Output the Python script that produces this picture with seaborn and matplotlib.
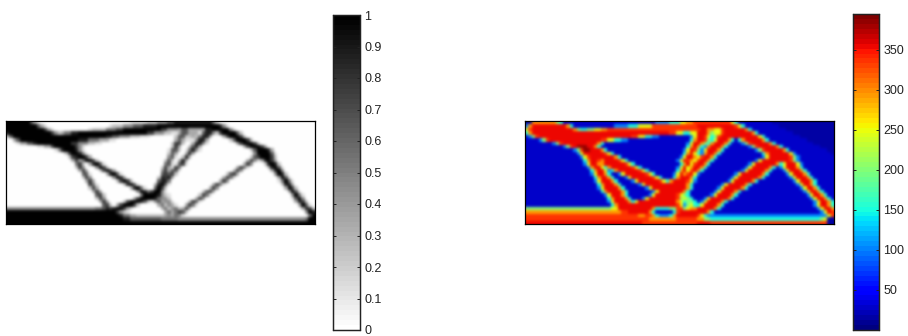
import numpy as np
import matplotlib
matplotlib.use("Agg")
import matplotlib.pyplot as plt
import seaborn as sns

# rows of the two fields: "column:level" means level from that column on
n_cols = 90

density_rows = [
    "0:9 7:6 8:3 9:1 10:0 36:1 41:2 44:4 47:6 49:8 60:5 61:2 62:0",
    "0:9 9:6 10:3 11:1 12:0 30:1 31:2 34:4 37:6 40:8 44:9 62:8 63:4 64:1 65:0",
    "0:9 11:7 12:3 13:1 14:0 24:1 25:2 29:5 32:7 34:9 45:7 47:4 50:3 51:6 53:3 58:8 60:9 65:4 66:1 67:0",
    "0:8 1:9 13:7 14:4 15:2 16:3 17:5 19:8 21:9 41:7 43:4 46:2 48:1 50:3 51:6 53:3 56:1 57:6 58:8 60:4 61:2 62:7 63:9 67:6 68:2 69:0",
    "0:2 1:6 2:9 29:8 31:6 33:4 36:2 39:1 42:0 49:2 50:6 52:2 54:3 55:2 56:5 57:8 59:3 60:0 63:3 64:7 65:9 68:7 69:2 70:0",
    "0:0 2:3 3:6 4:9 21:8 24:5 27:3 30:1 32:0 49:3 50:6 51:3 52:1 55:4 56:8 58:3 59:0 65:2 66:6 67:9 70:7 71:2 72:0",
    "0:0 3:1 4:3 6:6 8:8 9:9 19:7 21:4 24:2 26:1 28:0 48:2 49:7 51:2 52:0 54:3 55:8 57:4 58:1 59:0 67:3 68:7 69:9 72:7 73:2 74:0",
    "0:0 9:1 11:3 13:7 14:9 20:7 21:4 22:1 23:0 48:2 49:7 50:3 51:0 53:2 54:6 55:8 56:3 57:0 69:3 70:7 71:9 74:7 75:3 76:0",
    "0:0 14:1 15:4 16:8 17:9 20:8 21:4 22:1 23:0 47:1 48:6 50:2 51:0 52:1 53:5 54:8 55:4 56:1 57:0 71:2 72:6 73:9 76:8 77:3 78:0",
    "0:0 17:2 18:7 19:9 21:8 22:4 23:1 24:0 47:2 48:6 49:3 50:0 52:3 53:8 54:3 55:0 72:4 73:9 77:6 78:1 79:0",
    "0:0 18:2 19:7 20:8 21:9 23:7 24:3 25:0 47:4 48:6 49:1 50:0 51:2 52:8 53:3 54:0 71:2 72:6 73:7 74:9 77:7 78:2 79:0",
    "0:0 19:3 20:7 21:3 22:5 23:9 25:7 26:2 27:0 46:2 47:6 48:2 49:0 50:3 51:8 52:3 53:0 70:3 71:7 72:4 73:1 74:3 75:8 76:9 77:7 78:3 79:0",
    "0:0 20:5 21:7 22:2 23:0 24:3 25:8 26:9 27:6 28:1 29:0 46:5 47:6 48:1 50:6 51:7 52:1 53:0 69:3 70:7 71:4 72:0 75:2 76:8 77:9 78:8 79:2 80:0",
    "0:0 20:2 21:7 22:4 23:0 26:4 27:9 28:7 29:2 30:0 45:2 46:7 47:3 48:1 49:7 50:5 51:0 67:3 68:7 69:5 70:1 71:0 76:2 77:8 78:9 79:6 80:1 81:0",
    "0:0 21:3 22:7 23:3 24:0 27:2 28:7 29:9 30:7 31:3 32:0 45:4 46:7 47:3 48:6 50:1 51:0 66:3 67:7 68:4 69:0 77:3 78:8 79:9 80:4 81:0",
    "0:0 22:6 24:1 25:0 29:3 30:8 31:9 32:6 33:1 34:0 45:6 46:7 47:6 48:7 49:2 50:0 64:2 65:6 66:7 67:3 68:0 78:4 79:9 80:8 81:2 82:0",
    "0:0 22:2 23:7 24:4 25:0 31:4 32:9 33:8 34:3 35:0 44:2 45:8 46:7 47:8 48:3 49:0 63:3 64:7 65:5 66:1 67:0 79:3 80:9 81:6 82:1 83:0",
    "0:0 23:3 24:7 25:3 26:0 32:2 33:7 34:9 35:7 36:2 37:0 44:6 45:8 47:5 48:0 62:3 63:7 64:4 65:0 79:1 80:5 81:9 82:5 83:1 84:0",
    "0:0 24:7 25:5 26:1 27:0 34:2 35:8 36:9 37:6 38:1 39:0 43:3 44:8 45:9 46:6 47:1 48:0 60:3 61:7 62:5 63:1 64:0 80:2 81:8 83:3 84:0",
    "0:0 24:2 25:7 26:3 27:0 36:3 37:8 38:9 39:5 40:1 41:0 43:6 44:9 45:7 46:2 47:0 59:3 60:7 61:4 62:0 81:3 82:9 83:7 84:2 85:0",
    "0:0 25:3 26:7 27:3 28:0 38:4 39:9 40:8 41:5 42:7 43:9 45:4 46:1 47:0 57:2 58:6 59:7 60:3 61:0 82:3 83:9 84:6 85:1 86:0",
    "0:0 26:6 27:7 28:2 29:0 39:5 40:9 44:8 45:4 46:2 47:1 48:0 56:2 57:7 58:5 59:1 60:0 83:4 84:9 85:5 86:1 87:0",
    "0:0 26:2 27:7 28:4 29:0 37:3 38:7 39:9 43:8 44:5 45:4 47:2 48:0 55:3 56:7 57:4 58:0 83:1 84:6 85:9 86:4 87:0",
    "0:0 27:3 28:7 29:3 30:0 34:2 35:7 36:9 39:8 40:6 41:2 42:1 43:4 44:6 45:3 46:4 48:1 49:0 53:2 54:7 55:6 56:1 57:0 84:3 85:8 86:7 87:2 88:0",
    "0:0 28:6 29:7 30:2 31:0 32:3 33:7 34:9 37:7 38:2 39:0 44:3 45:5 46:2 47:4 48:3 49:1 50:0 52:3 53:7 54:5 55:1 56:0 85:3 86:9 87:6 88:1 89:0",
    "0:4 26:5 28:6 29:8 30:7 31:8 32:9 34:7 35:3 36:1 37:0 45:3 46:5 47:2 48:4 49:5 50:2 51:3 52:7 53:3 54:0 86:3 87:8 88:7 89:2",
    "0:9 32:7 33:4 34:2 35:1 36:0 46:3 47:5 48:3 49:5 50:7 51:6 52:2 53:0 87:4 88:9 89:8",
    "0:9 33:8 34:5 36:3 38:2 46:3 47:4 48:3 49:5 50:4 51:1 52:0 88:5 89:9",
    "0:9 34:8 36:6 45:5 50:4 87:5 88:9",
    "0:9",
]

stress_rows = [
    "0:0 2:6 9:4 10:3 11:1 38:2 42:3 45:5 47:6 49:7 60:5 61:3 62:1 72:0",
    "0:2 1:6 2:8 12:6 13:3 14:1 26:2 30:3 33:5 37:7 50:8 61:7 62:5 63:3 64:1 74:0",
    "0:5 1:7 2:8 14:6 15:4 16:3 18:4 20:5 22:6 24:7 50:7 51:8 53:6 55:5 57:7 58:8 64:6 65:3 66:1 76:0",
    "0:3 1:6 2:8 42:7 44:5 46:3 48:5 50:8 53:6 54:4 55:5 57:7 58:8 66:6 67:3 68:1 78:0",
    "0:1 1:2 2:4 3:7 4:8 31:7 33:5 35:3 37:2 39:1 48:2 49:5 50:8 52:7 53:5 54:3 55:4 56:7 57:8 67:8 68:5 69:3 70:1 80:0",
    "0:1 4:2 5:4 6:7 7:8 22:7 24:5 26:3 28:2 30:1 48:3 49:6 50:8 52:7 53:4 54:3 55:5 56:8 59:6 60:3 61:1 62:3 63:6 64:8 69:6 70:3 71:1 82:0",
    "0:1 8:2 9:4 10:7 11:8 20:8 21:6 22:3 23:1 47:2 48:5 49:8 51:6 52:4 53:3 54:6 55:8 58:6 59:3 60:1 63:2 64:4 65:7 66:8 71:6 72:3 73:1 84:0",
    "0:1 11:2 12:4 13:7 14:8 15:9 18:8 20:6 21:3 22:1 47:3 48:6 49:8 50:6 51:3 52:2 53:6 54:8 57:6 58:3 59:1 65:2 66:4 67:7 68:8 73:6 74:3 75:1 86:0",
    "0:1 14:2 15:4 16:7 17:9 19:8 22:6 23:3 24:1 46:2 47:5 48:8 49:7 50:4 51:2 52:5 53:8 56:6 57:3 58:1 67:2 68:4 69:7 70:8 75:6 76:3 77:1 88:0",
    "0:1 15:2 16:5 17:8 23:7 24:5 25:3 26:1 46:3 47:6 48:8 49:5 50:3 51:2 52:6 53:8 55:6 56:3 57:1 69:3 70:6 71:8 77:5 78:2 79:1 89:0",
    "0:1 16:2 17:5 18:7 19:8 26:6 27:3 28:1 45:2 46:5 47:8 49:6 50:5 51:7 52:8 54:6 55:3 56:1 69:2 70:5 71:8 77:7 78:4 79:2 80:1",
    "0:1 17:3 18:6 19:8 21:7 22:6 23:8 27:7 28:5 29:3 30:1 44:2 45:5 46:8 47:7 48:6 49:5 50:7 51:8 53:6 54:3 55:1 67:2 68:5 69:8 77:7 78:4 79:2 80:1",
    "0:1 17:2 18:5 19:8 21:6 23:8 29:7 30:5 31:3 32:1 45:3 46:6 47:8 48:5 49:7 50:8 52:6 53:3 54:1 65:2 66:5 67:8 73:6 74:3 75:5 76:8 79:5 80:2 81:1",
    "0:1 18:2 19:6 20:8 22:5 23:3 24:6 25:8 31:7 32:5 33:3 34:1 44:2 45:5 46:8 47:5 48:6 49:8 51:6 52:3 53:1 64:2 65:5 66:8 71:6 72:3 73:1 74:2 75:5 76:8 79:6 80:3 81:1",
    "0:1 19:3 20:6 21:8 23:5 24:2 25:3 26:6 27:8 33:7 34:5 35:3 36:1 44:3 45:6 46:8 47:5 48:7 49:8 50:6 51:3 52:1 63:2 64:5 65:8 70:6 71:3 72:1 75:2 76:5 77:8 80:6 81:3 82:1",
    "0:1 19:2 20:5 21:8 23:6 24:3 25:1 27:2 28:5 29:8 35:7 36:5 37:3 38:1 43:2 44:5 45:8 46:6 47:7 48:8 49:5 50:2 51:1 61:2 62:5 63:8 69:6 70:3 71:1 76:2 77:5 78:8 81:6 82:3 83:1",
    "0:1 20:3 21:6 22:8 24:6 25:3 26:1 29:2 30:5 31:8 37:7 38:5 39:3 40:1 43:3 44:6 45:8 48:6 49:3 50:1 60:2 61:5 62:8 68:6 69:3 70:1 77:2 78:5 79:8 82:6 83:3 84:1",
    "0:1 20:2 21:5 22:8 25:6 26:3 27:1 31:2 32:5 33:8 39:7 40:5 41:3 42:6 43:8 47:7 48:5 49:2 50:1 59:2 60:5 61:8 66:6 67:3 68:1 78:2 79:5 80:8 83:6 84:3 85:1",
    "0:1 21:3 22:6 23:8 26:6 27:3 28:1 33:2 34:5 35:8 47:6 48:3 49:1 57:2 58:5 59:8 64:6 65:3 66:1 79:2 80:5 81:8 83:6 84:3 85:1",
    "0:1 21:2 22:5 23:8 27:6 28:3 29:1 35:2 36:5 37:8 47:6 48:3 49:1 56:2 57:5 58:8 63:6 64:3 65:1 80:2 81:5 82:8 84:6 85:3 86:1",
    "0:1 22:3 23:6 24:8 28:6 29:3 30:1 37:2 38:5 39:8 46:6 47:3 48:1 55:2 56:5 57:8 61:6 62:3 63:1 81:2 82:5 83:8 85:6 86:3 87:1",
    "0:1 23:2 24:5 25:8 28:6 29:3 30:1 36:2 37:5 38:8 44:7 45:5 46:4 47:3 48:1 54:2 55:5 56:8 60:6 61:3 62:1 82:2 83:5 84:8 86:6 87:3 88:1",
    "0:1 24:3 25:6 26:8 29:6 30:3 31:1 34:2 35:5 36:8 44:7 45:4 46:5 47:4 48:3 49:1 52:2 53:5 54:8 59:6 60:3 61:1 83:2 84:5 85:8 87:6 88:3 89:1",
    "0:1 24:2 25:5 26:8 30:6 31:3 32:5 33:8 44:6 45:5 46:3 47:4 49:3 50:1 51:2 52:5 53:8 57:6 58:3 59:1 84:2 85:5 86:8 88:6 89:3",
    "0:1 25:3 26:6 27:8 44:7 45:5 46:2 47:4 48:5 49:3 51:5 52:8 56:6 57:3 58:1 84:2 85:5 86:8 88:6 89:3",
    "0:4 25:5 27:8 37:6 38:3 42:4 44:7 46:4 47:5 48:6 50:8 55:6 56:3 57:1 85:2 86:5 87:8 89:6",
    "0:6 28:7 30:8 36:6 37:3 38:1 43:3 44:7 45:8 53:6 54:3 55:1 86:2 87:5 88:8 89:7",
    "0:7 33:6 35:7 37:6 38:3 39:2 42:3 43:6 44:8 50:7 51:5 52:3 53:2 88:5 89:7",
    "0:7 36:6 44:7 50:6 52:4 54:3 86:4 87:5 88:0",
    "0:8 34:7 50:8 54:7 88:0",
]

# what the digits of the rows stand for
density_levels = [0.0, 0.11, 0.22, 0.33, 0.44, 0.56, 0.67, 0.78, 0.89, 1.0]
stress_levels = [15, 30, 100, 150, 200, 250, 295, 335, 355, 385]

density_ticks = [0, 0.1, 0.2, 0.3, 0.4, 0.5, 0.6, 0.7, 0.8, 0.9, 1]
density_labels = ["0", "0.1", "0.2", "0.3", "0.4", "0.5", "0.6", "0.7", "0.8", "0.9", "1"]
stress_ticks = [50, 100, 150, 200, 250, 300, 350]
stress_labels = ["50", "100", "150", "200", "250", "300", "350"]


def read_rows(rows, levels):
    grid = []
    for row in rows:
        cells = [0.0] * n_cols
        for part in row.split():
            col, level = part.split(":")
            for i in range(int(col), n_cols):
                cells[i] = levels[int(level)]
        grid.append(cells)
    return np.array(grid)


def box(x0, y0, x1, y1):
    # pixel box of the 908x336 picture to figure fractions
    return [x0 / 908, 1 - y1 / 336, (x1 - x0) / 908, (y1 - y0) / 336]


def soften(image, dpi):
    # the reference field is interpolated, so blur the drawn cells a little
    kernel = np.array([1, 3, 6, 8, 6, 3, 1], dtype=float)
    kernel = kernel / kernel.sum()
    pad = len(kernel) // 2
    out = image.copy()
    for axis in [0, 1]:
        pad_width = [(0, 0), (0, 0), (0, 0)]
        pad_width[axis] = (pad, pad)
        padded = np.pad(out, pad_width, mode="edge")
        out = np.apply_along_axis(lambda v: np.convolve(v, kernel, mode="valid"), axis, padded)
    return out, 0, 0


plt.rcParams["font.family"] = ["Liberation Sans", "DejaVu Sans"]

fig = plt.figure(figsize=(9.08, 3.36), dpi=100)

ax1 = fig.add_axes(box(6, 121, 315, 224))
cax1 = fig.add_axes(box(333, 15, 360, 330))
ax2 = fig.add_axes(box(525, 121, 834, 224))
cax2 = fig.add_axes(box(853, 14, 879, 330))

sns.heatmap(read_rows(density_rows, density_levels), ax=ax1, cbar_ax=cax1,
            cmap=plt.get_cmap("gray_r", 64), vmin=0, vmax=1,
            xticklabels=False, yticklabels=False)
sns.heatmap(read_rows(stress_rows, stress_levels), ax=ax2, cbar_ax=cax2,
            cmap=plt.get_cmap("jet", 64), vmin=0, vmax=395,
            xticklabels=False, yticklabels=False)

for ax in [ax1, ax2]:
    ax.collections[0].set_agg_filter(soften)
    for s in ax.spines.values():
        s.set_visible(True)
        s.set_linewidth(0.9)
        s.set_color("black")

for cax, ticks, labels in [(cax1, density_ticks, density_labels), (cax2, stress_ticks, stress_labels)]:
    cax.set_yticks(ticks)
    cax.set_yticklabels(labels)
    cax.tick_params(axis="y", direction="in", left=True, right=True, length=2, width=0.7,
                    labelsize=9, pad=3, colors="#222222")
    for s in cax.spines.values():
        s.set_visible(True)
        s.set_linewidth(0.9)
        s.set_color("#222222")

fig.savefig("out.png", dpi=100)
